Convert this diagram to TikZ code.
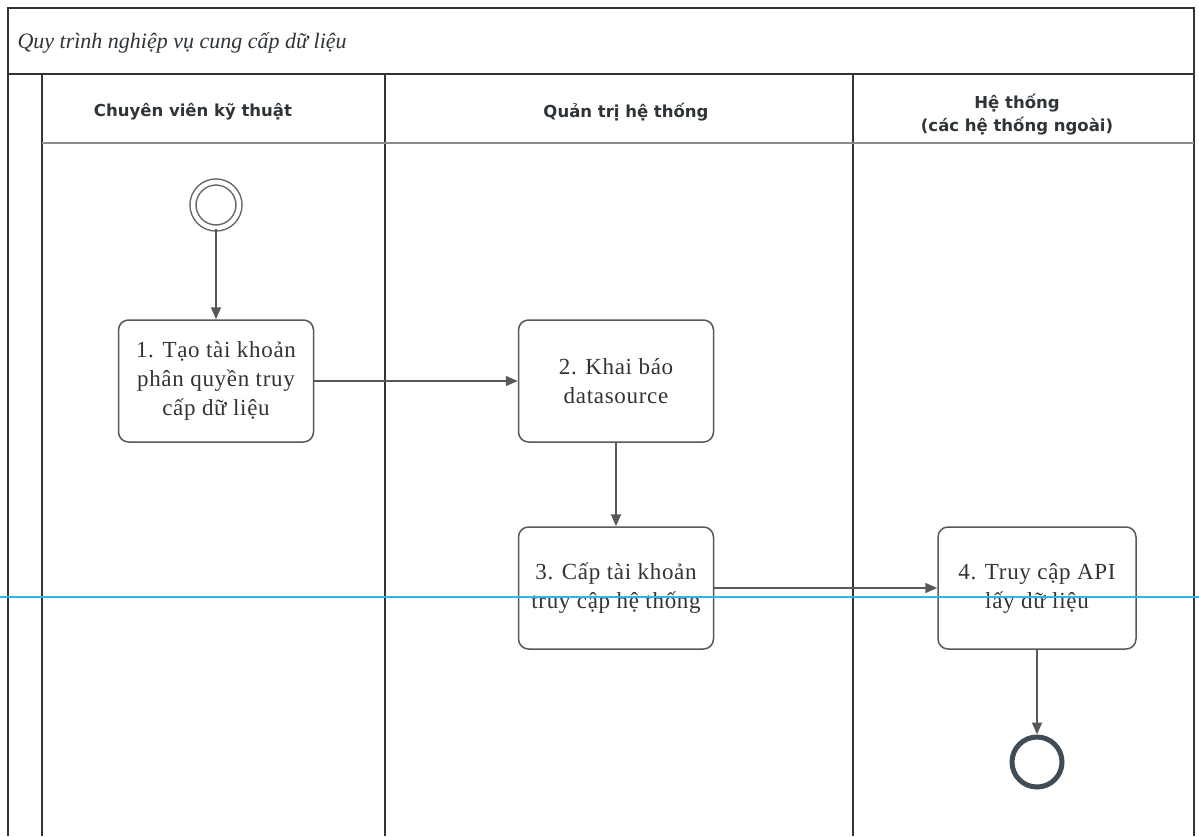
\documentclass[tikz,border=0pt]{standalone}
\usepackage{fontspec}
\setmainfont{Liberation Serif}
\newfontfamily\hdrfont{DejaVu Sans}
\newfontfamily\boxfont[LetterSpace=3]{Liberation Serif}
\usetikzlibrary{arrows.meta}

\definecolor{ink}{HTML}{2E3438}
\definecolor{boxline}{HTML}{55595C}
\definecolor{endring}{HTML}{3F4D58}
\definecolor{guide}{HTML}{2EB8E6}

\tikzset{
  framelines/.style={draw=ink, line width=2.2pt},
  lanelines/.style={draw=ink, line width=2.8pt},
  hdrsep/.style={draw=black!45, line width=1.4pt},
  hdr/.style={font=\hdrfont\bfseries\fontsize{16.5}{23}\selectfont, text=ink, align=center},
  task/.style={draw=boxline, line width=1.5pt, rounded corners=10pt,
    minimum width=195pt, minimum height=122pt, inner sep=0pt, align=center,
    font=\boxfont\fontsize{23}{29}\selectfont, text=black!80},
  flow/.style={draw=boxline, line width=1.6pt, -{Triangle[length=12pt,width=10pt]}},
  startev/.style={circle, draw=black!60, line width=1.5pt, double=white,
    double distance=4.5pt, minimum size=46pt, inner sep=0pt},
  endev/.style={circle, draw=endring, line width=5pt, minimum size=50pt, inner sep=0pt}
}

\begin{document}
\begin{tikzpicture}[x=1pt,y=-1pt]
\useasboundingbox (0,0) rectangle (1199,836);

% pool frame and title band
\draw[framelines] (8,836) -- (8,8) -- (1194,8) -- (1194,836);
\draw[framelines] (8,74) -- (1194,74);
\node[anchor=west, font=\itshape\fontsize{22}{26}\selectfont, text=ink] (title) at (14,43)
  {Quy trình nghiệp vụ cung cấp dữ liệu};

% lanes
\draw[lanelines] (42,74) -- (42,836);
\draw[lanelines] (385,74) -- (385,836);
\draw[lanelines] (853,74) -- (853,836);
\draw[hdrsep] (42,143) -- (1194,143);

\node[hdr] (h1) at (193,112) {Chuyên viên kỹ thuật};
\node[hdr] (h2) at (626,112) {Quản trị hệ thống};
\node[hdr] (h3) at (1017,115) {Hệ thống\\(các hệ thống ngoài)};

% flow nodes
\node[startev] (start) at (216,205) {};
\node[task] (t1) at (216,381) {1. Tạo tài khoản\\phân quyền truy\\cấp dữ liệu};
\node[task] (t2) at (616,381) {2. Khai báo\\datasource};
\node[task] (t3) at (616,588) {3. Cấp tài khoản\\truy cập hệ thống};
\node[task, minimum width=198pt] (t4) at (1037,588) {4. Truy cập API\\lấy dữ liệu};
\node[endev] (end) at (1037,762) {};

% sequence flows
\draw[flow] (start) -- (t1);
\draw[flow] (t1) -- (t2);
\draw[flow] (t2) -- (t3);
\draw[flow] (t3) -- (t4);
\draw[flow] (t4) -- (end);

% thin cyan guide line across the sheet
\draw[guide, line width=1.1pt] (0,597) -- (1199,597);
\end{tikzpicture}
\end{document}
